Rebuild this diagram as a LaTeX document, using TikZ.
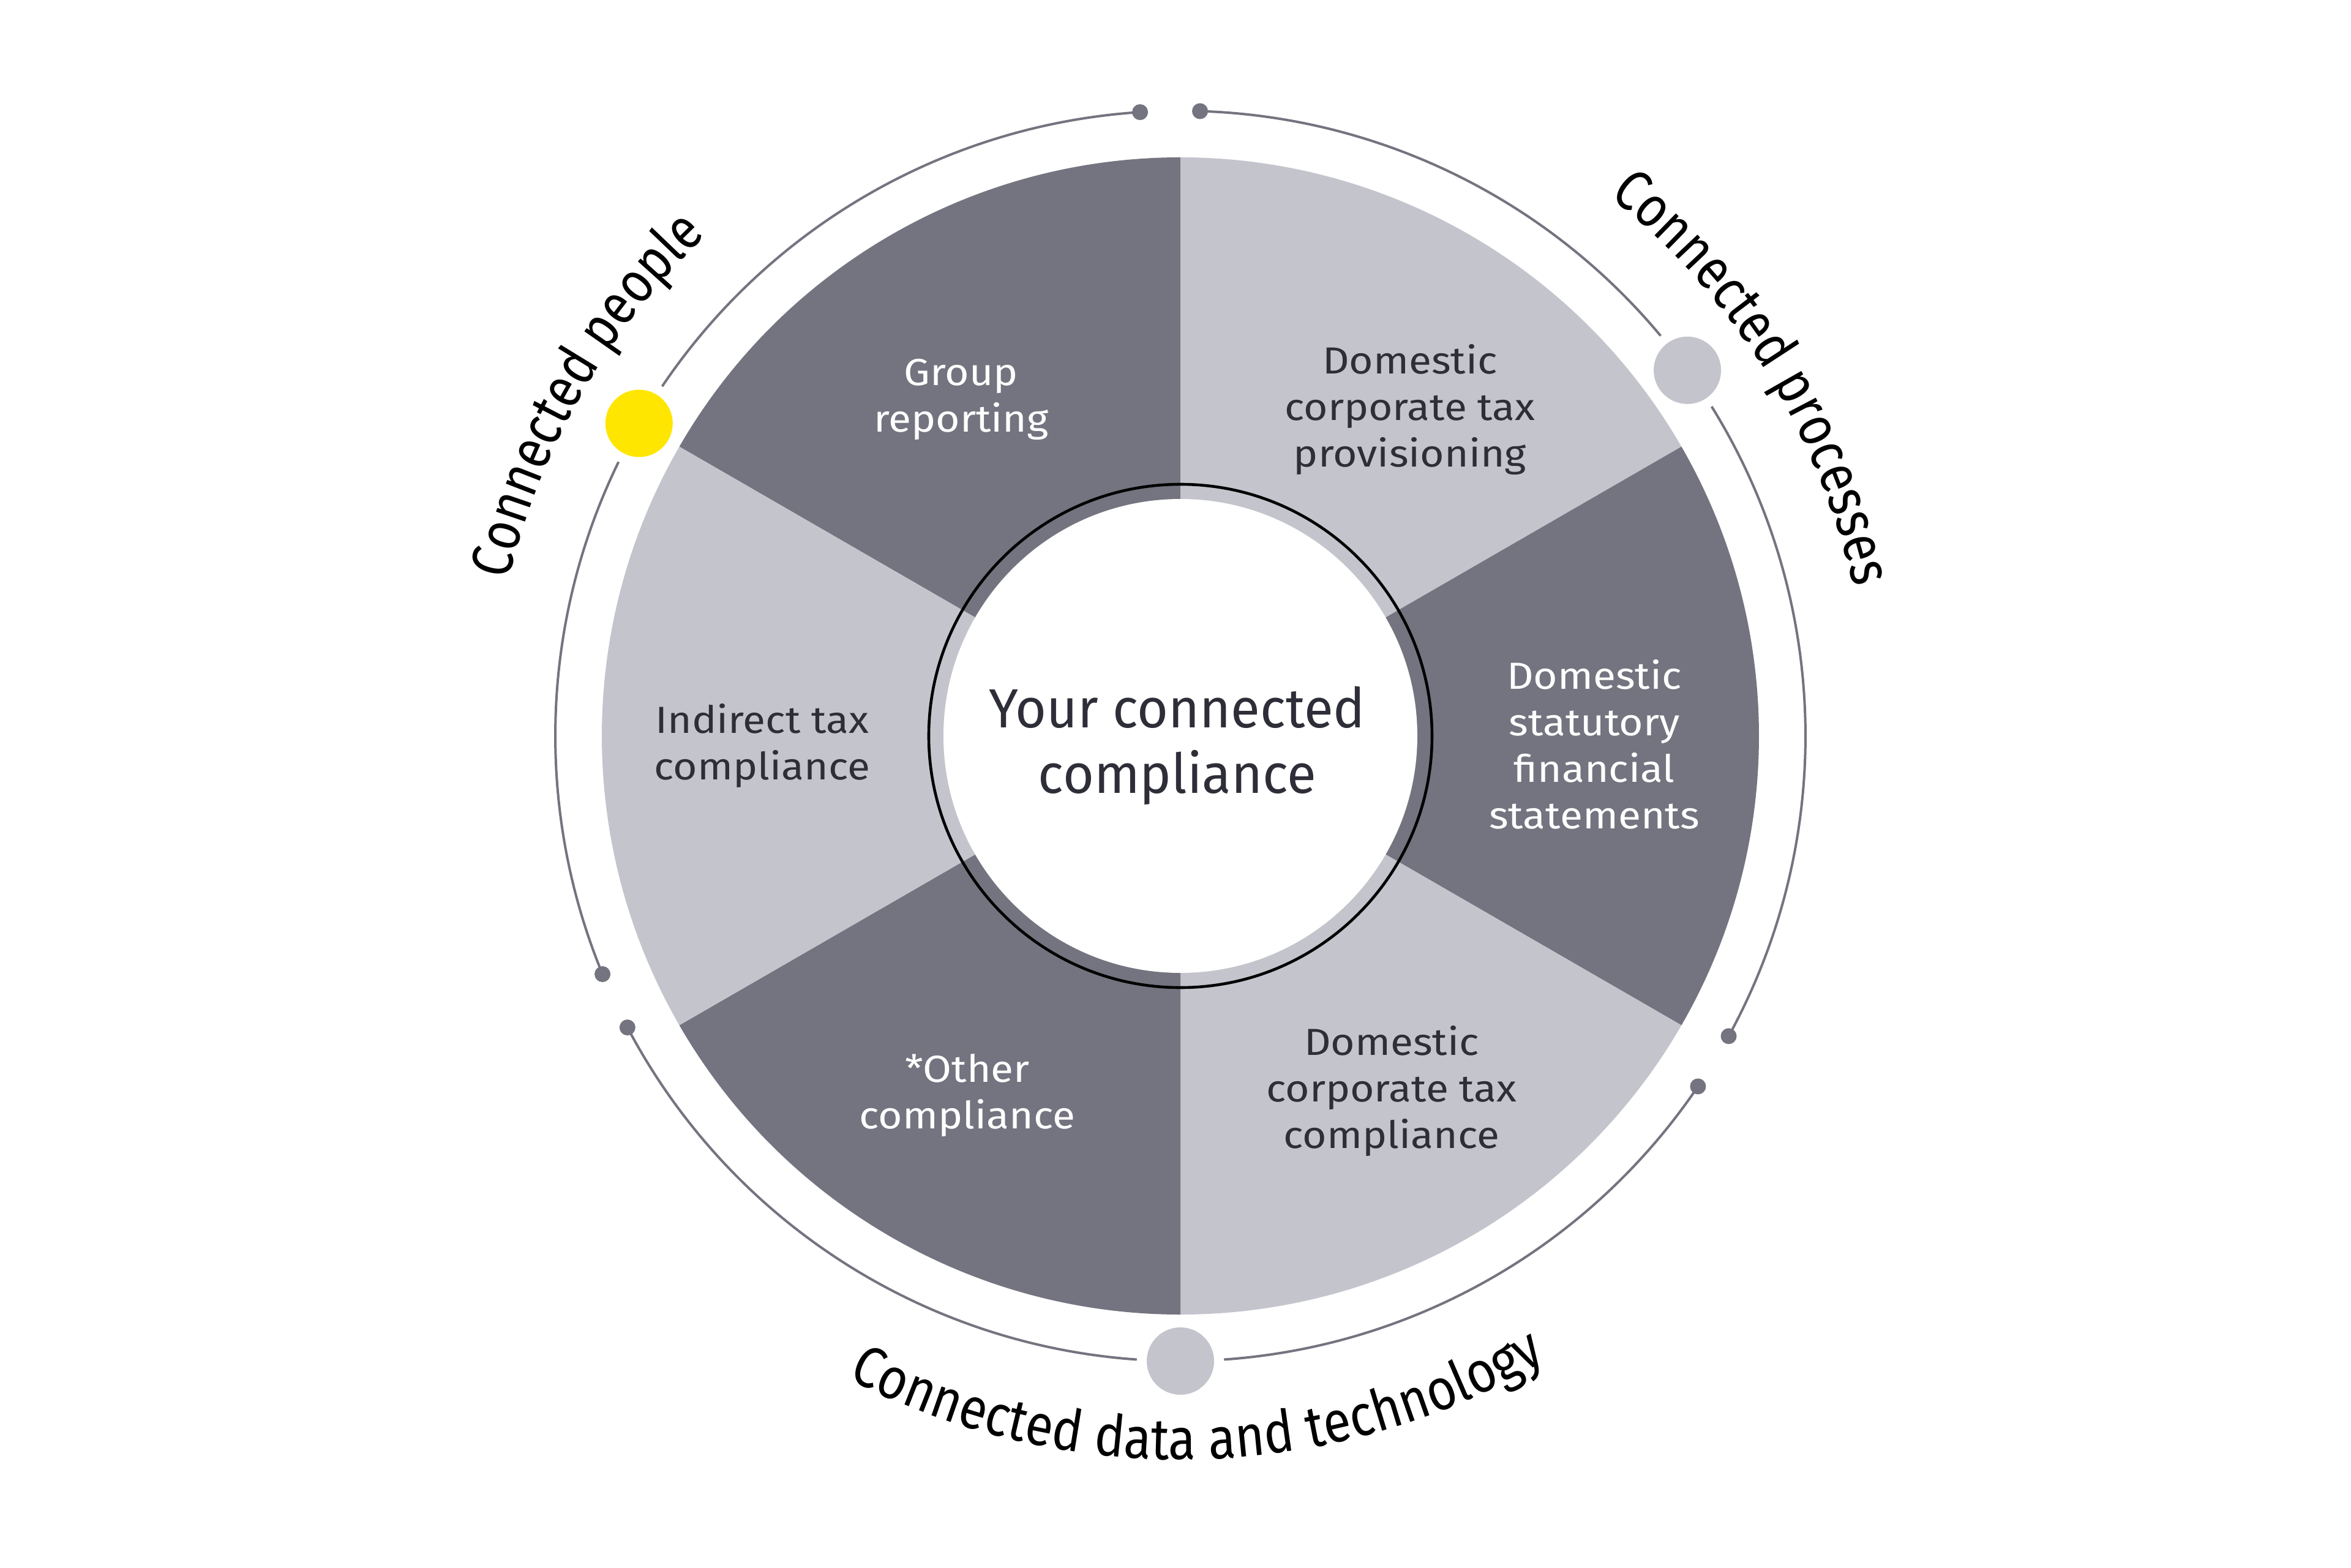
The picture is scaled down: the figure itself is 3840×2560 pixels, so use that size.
\documentclass[tikz,border=0pt]{standalone}
\usepackage{fontspec}
\setmainfont{Fira Sans}
\newfontfamily\segff{Fira Sans}[FakeStretch=1.1]
\newfontfamily\midff{Fira Sans}[FakeStretch=0.97]
\newfontfamily\lblff{Fira Sans}[FakeStretch=0.87]
\newfontfamily\lblffn{Fira Sans}[FakeStretch=0.84]
\usetikzlibrary{decorations.text}
\definecolor{segdark}{HTML}{747480}
\definecolor{seglight}{HTML}{C4C4CD}
\definecolor{eydark}{HTML}{2E2E38}
\definecolor{eyyellow}{HTML}{FFE600}
\definecolor{ringgray}{HTML}{747480}
\newcommand{\segfont}{\segff\fontsize{15.4}{19}\selectfont}
\newcommand{\midfont}{\midff\fontsize{22.5}{26.75}\selectfont}
\newcommand{\lblfont}{\lblff\fontsize{23.7}{28}\selectfont}
\newcommand{\lblfontn}{\lblffn\fontsize{23.7}{28}\selectfont}
\tikzset{
  onlight/.style={text=eydark, align=center, font=\segfont, inner sep=0pt},
  ondark/.style={text=white, align=center, font=\segfont, inner sep=0pt},
  ringline/.style={draw=ringgray, line width=1pt},
  smalldot/.style={circle, fill=ringgray, minimum size=6.5pt, inner sep=0pt},
  bigdot/.style={circle, minimum size=27.5pt, inner sep=0pt},
}
\begin{document}
\begin{tikzpicture}[x=0.25pt,y=0.25pt]
\useasboundingbox (-1928,-1358) rectangle (1912,1202);
\fill[white] (-1928,-1358) rectangle (1912,1202);
% pie
\foreach \a/\c in {90/segdark,30/seglight,-30/segdark,-90/seglight,-150/segdark,150/seglight}
  \fill[\c] (0,0) -- (\a:945) arc[start angle=\a, end angle=\a+60, radius=945] -- cycle;
\fill[white] (0,0) circle[radius=387];
\draw[black, line width=1.15pt] (0,0) circle[radius=411];
% outer ring arcs
\draw[ringline] (93.7:1021) arc[start angle=93.7, end angle=146, radius=1021];
\draw[ringline] (154:1021) arc[start angle=154, end angle=202.4, radius=1021];
\draw[ringline] (207.8:1021) arc[start angle=207.8, end angle=266, radius=1021];
\draw[ringline] (274:1021) arc[start angle=274, end angle=325.9, radius=1021];
\draw[ringline] (-28.7:1021) arc[start angle=-28.7, end angle=31.8, radius=1021];
\draw[ringline] (39.8:1021) arc[start angle=39.8, end angle=88.2, radius=1021];
% dots
\node[smalldot] (d1) at (93.7:1021) {};
\node[smalldot] (d2) at (88.2:1021) {};
\node[smalldot] (d3) at (202.4:1021) {};
\node[smalldot] (d4) at (207.8:1021) {};
\node[smalldot] (d5) at (-34.1:1021) {};
\node[smalldot] (d6) at (-28.7:1021) {};
\node[bigdot, fill=eyyellow] (people) at (150:1021) {};
\node[bigdot, fill=seglight] (process) at (35.8:1021) {};
\node[bigdot, fill=seglight] (data) at (270:1021) {};
% curved labels
\path[decorate, decoration={text along path, text align=center, text={|\lblfontn|Connected people}}]
  (180.2:1126) arc[start angle=180.2, end angle=120.2, radius=1126];
\path[decorate, decoration={text along path, text align=center, text={|\lblfontn|Connected processes}}]
  (62:1126) arc[start angle=62, end angle=2, radius=1126];
\path[decorate, decoration={text along path, text align=center, text={|\lblfont|Connected data and technology}}]
  (236.5:1182) arc[start angle=236.5, end angle=306.5, radius=1182];
% segment texts
\node[ondark] (grp) at (-358,550) {Group\\reporting};
\node[onlight] (prov) at (375,533) {Domestic\\corporate tax\\provisioning};
\node[ondark] (stat) at (676,-14) {Domestic\\statutory\\financial\\statements};
\node[onlight] (comp) at (345,-580) {Domestic\\corporate tax\\compliance};
\node[ondark] (other) at (-348,-587) {*Other\\compliance};
\node[onlight] (ind) at (-683,-16) {Indirect tax\\compliance};
\node[text=eydark, align=center, font=\midfont, inner sep=0pt] (core) at (-5,-16) {Your connected\\compliance};
\end{tikzpicture}
\end{document}
